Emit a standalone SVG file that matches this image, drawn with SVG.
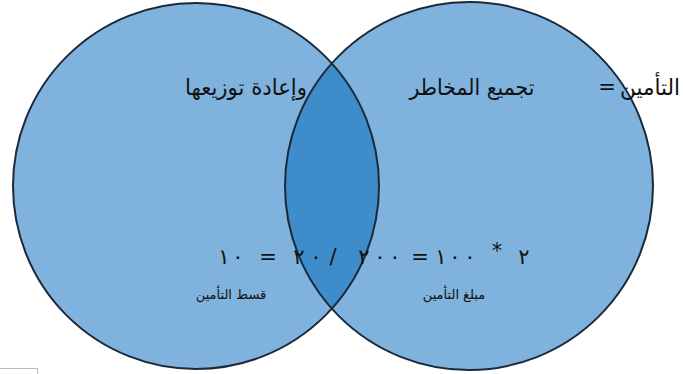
<svg xmlns="http://www.w3.org/2000/svg" width="683" height="374" viewBox="0 0 683 374">
<style>
.fill{fill:#0065b9;fill-opacity:0.5;stroke:none}
.edge{fill:none;stroke:#1b2a3a;stroke-width:2}
.ar{font-family:"DejaVu Sans",sans-serif;fill:#111;direction:rtl}
.big{font-size:22px}
.num{font-family:"DejaVu Sans",sans-serif;font-size:21px;fill:#111;text-anchor:middle}
.lbl{font-family:"DejaVu Sans",sans-serif;font-size:13px;fill:#111;text-anchor:middle;direction:rtl}
</style>
<rect width="683" height="374" fill="#fff"/>
<g id="circle-left">
<circle class="fill" cx="196" cy="186" r="183"/>
</g>
<g id="circle-right">
<circle class="fill" cx="469" cy="186" r="184"/>
</g>
<g id="outlines">
<circle class="edge" cx="196" cy="186" r="183"/>
<circle class="edge" cx="469" cy="186" r="184"/>
</g>
<g id="title">
<text class="ar big" x="246" y="95" text-anchor="middle" textLength="122" lengthAdjust="spacingAndGlyphs">وإعادة توزيعها</text>
<text class="ar big" x="472" y="95" text-anchor="middle" textLength="125" lengthAdjust="spacingAndGlyphs">تجميع المخاطر</text>
<text class="num" x="607" y="94" font-size="15" fill="#333">=</text>
<text class="ar big" x="650" y="95" text-anchor="middle" textLength="60" lengthAdjust="spacingAndGlyphs">التأمين</text>
</g>
<g id="equation">
<text class="num" x="224" y="264">١</text>
<text class="num" x="238" y="264">٠</text>
<text class="num" x="268" y="264" font-size="18">=</text>
<text class="num" x="299" y="264">٢</text>
<text class="num" x="316" y="264">٠</text>
<text class="num" x="333" y="264">/</text>
<text class="num" x="364" y="264">٢</text>
<text class="num" x="380" y="264">٠</text>
<text class="num" x="395" y="264">٠</text>
<text class="num" x="420" y="264" font-size="18">=</text>
<text class="num" x="441" y="264">١</text>
<text class="num" x="455" y="264">٠</text>
<text class="num" x="470" y="264">٠</text>
<text class="num" x="497" y="258" font-size="14">*</text>
<text class="num" x="524" y="264">٢</text>
</g>
<g id="labels">
<text class="lbl" x="231" y="299">قسط التأمين</text>
<text class="lbl" x="454" y="299">مبلغ التأمين</text>
</g>
<path d="M0 368.5H37.5V374" fill="none" stroke="#bbb" stroke-width="1"/>
</svg>
